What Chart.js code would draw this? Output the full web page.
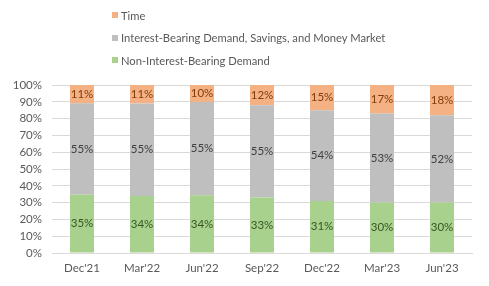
<!DOCTYPE html>
<html>
<head>
<meta charset="utf-8">
<script src="https://cdn.jsdelivr.net/npm/chart.js@4"></script>
<style>
  html, body { margin: 0; padding: 0; background: #fff; }
  #wrap { position: relative; width: 489px; height: 286px; }
  #legend { position: absolute; left: 112px; top: 4px; font: 11.2px Lato, sans-serif; color: #595959; }
  .legend-item { height: 22.5px; display: flex; align-items: center; }
  .legend-color { width: 6px; height: 6px; margin-right: 3px; }
</style>
</head>
<body>
<div id="wrap">
  <div id="legend"></div>
  <canvas id="depositChart" width="489" height="286"></canvas>
</div>
<script>
// Données (en %)
const categories = ["Dec'21", "Mar'22", "Jun'22", "Sep'22", "Dec'22", "Mar'23", "Jun'23"];
const nonInterest = [35, 34, 34, 33, 31, 30, 30];
const interestBearing = [55, 55, 55, 55, 54, 53, 52];
const timeDeposits = [11, 11, 10, 12, 15, 17, 18];
const yTicks = [0, 10, 20, 30, 40, 50, 60, 70, 80, 90, 100];

const seriesNames = ['Non-Interest-Bearing Demand', 'Interest-Bearing Demand, Savings, and Money Market', 'Time'];
const colors = ['#a9d18e', '#bfbfbf', '#f4b183'];
const labelColors = ['#375623', '#404040', '#843c0c'];
const rawSeries = [nonInterest, interestBearing, timeDeposits];

// 100% empilé : on normalise chaque colonne
const totals = categories.map((c, i) => rawSeries.reduce((s, arr) => s + arr[i], 0));

const datasets = rawSeries.map((arr, k) => ({
    label: seriesNames[k],
    data: arr.map((v, i) => v / totals[i] * 100),
    raw: arr,
    backgroundColor: colors[k],
    borderWidth: 0,
    barPercentage: 0.4,
    categoryPercentage: 1
}));

const fontFamily = 'Lato, sans-serif';

// Étiquettes au centre des segments
const segmentLabels = {
    id: 'segmentLabels',
    afterDatasetsDraw(chart) {
        const ctx = chart.ctx;
        ctx.save();
        ctx.font = '11.5px ' + fontFamily;
        ctx.textAlign = 'center';
        ctx.textBaseline = 'middle';
        chart.data.datasets.forEach((ds, k) => {
            const meta = chart.getDatasetMeta(k);
            meta.data.forEach((bar, i) => {
                ctx.fillStyle = labelColors[k];
                ctx.fillText(ds.raw[i] + '%', bar.x, (bar.y + bar.base) / 2);
            });
        });
        ctx.restore();
    }
};

const ctx = document.getElementById('depositChart').getContext('2d');
const depositChart = new Chart(ctx, {
    type: 'bar',
    data: { labels: categories, datasets: datasets },
    options: {
        responsive: false,
        animation: false,
        layout: { padding: { top: 85, right: 17, left: 0, bottom: 0 } },
        scales: {
            x: {
                stacked: true,
                afterFit: scale => { scale.height = 33; },
                grid: { display: false, drawTicks: false },
                border: { color: '#d9d9d9' },
                ticks: { color: '#595959', font: { family: fontFamily, size: 11.5 }, padding: 8 }
            },
            y: {
                stacked: true,
                min: 0,
                max: 100,
                afterFit: scale => { scale.width = 52; },
                afterBuildTicks: axis => { axis.ticks = yTicks.map(v => ({ value: v })); },
                grid: { color: '#d9d9d9', drawTicks: false },
                border: { display: false },
                ticks: {
                    autoSkip: false,
                    color: '#595959',
                    font: { family: fontFamily, size: 11.5 },
                    padding: 10,
                    callback: v => v + '%'
                }
            }
        },
        plugins: {
            legend: { display: false },
            tooltip: { enabled: false }
        }
    },
    plugins: [segmentLabels]
});

// Légende personnalisée (ordre inversé)
const legendContainer = document.getElementById('legend');
[2, 1, 0].forEach(k => {
    const item = document.createElement('div');
    item.className = 'legend-item';
    const box = document.createElement('div');
    box.className = 'legend-color';
    box.style.backgroundColor = colors[k];
    const txt = document.createElement('span');
    txt.textContent = seriesNames[k];
    item.appendChild(box);
    item.appendChild(txt);
    legendContainer.appendChild(item);
});
</script>
</body>
</html>
